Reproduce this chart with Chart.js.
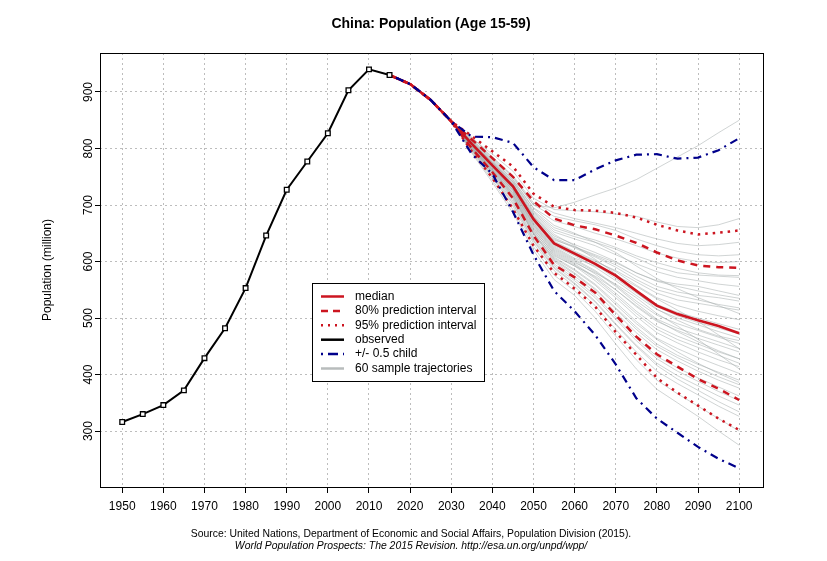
<!DOCTYPE html>
<html>
<head>
<meta charset="utf-8">
<title>China: Population (Age 15-59)</title>
<script src="https://cdn.jsdelivr.net/npm/chart.js@4.4.0/dist/chart.umd.min.js"></script>
<style>
body{margin:0;background:#fff;}
#wrap{width:827px;height:561px;}
</style>
</head>
<body>
<div id="wrap"><canvas id="myChart" width="827" height="561"></canvas></div>
<script>
// observed (UN WPP 2015), million people aged 15-59
var obsYears = [1950, 1955, 1960, 1965, 1970, 1975, 1980, 1985, 1990, 1995, 2000, 2005, 2010, 2015];
var observed = [316, 330, 346, 372, 429, 482, 553, 646, 727, 777, 827, 903, 940, 930];

// projections, 2015 - 2100 every 5 years
var projYears = [2015, 2020, 2025, 2030, 2035, 2040, 2045, 2050, 2055, 2060, 2065, 2070, 2075, 2080, 2085, 2090, 2095, 2100];
var median  = [930, 914, 886, 848, 808, 770, 733, 675, 632, 614, 596, 575, 548, 522, 507, 496, 486, 473];
var pi80Up  = [930, 914, 886, 848, 816, 783, 750, 707, 676, 664, 657, 646, 633, 616, 602, 593, 590, 589];
var pi80Low = [930, 914, 886, 848, 800, 758, 712, 646, 594, 572, 545, 505, 467, 436, 414, 392, 375, 355];
var pi95Up  = [930, 914, 886, 848, 822, 795, 768, 720, 697, 691, 690, 686, 678, 665, 655, 648, 651, 655];
var pi95Low = [930, 914, 886, 848, 795, 748, 693, 628, 580, 552, 520, 475, 435, 394, 368, 345, 322, 302];
var childUp  = [930, 914, 886, 848, 821, 820, 810, 767, 744, 744, 763, 779, 789, 790, 782, 784, 797, 818];
var childLow = [930, 914, 886, 848, 790, 755, 688, 612, 548, 512, 470, 418, 358, 322, 297, 272, 251, 234];

// sample trajectories: shared start 2015-2030, then 2035-2100
var trajStart = [930, 914, 886, 848];
var trajectories = [
  [820, 785, 750, 700, 695, 705, 718, 730, 745, 765, 785, 805, 828, 850],
  [818, 790, 760, 712, 692, 690, 688, 684, 680, 670, 662, 660, 665, 676],
  [815, 782, 748, 700, 680, 672, 665, 655, 640, 628, 618, 612, 610, 612],
  [814, 780, 745, 695, 672, 662, 650, 640, 628, 615, 606, 600, 598, 600],
  [812, 777, 742, 690, 660, 648, 638, 625, 610, 598, 588, 580, 576, 575],
  [811, 775, 740, 686, 652, 640, 628, 612, 596, 582, 572, 566, 560, 556],
  [810, 774, 737, 682, 645, 630, 616, 600, 580, 565, 556, 548, 541, 535],
  [810, 772, 735, 680, 640, 624, 608, 590, 568, 550, 540, 532, 524, 518],
  [809, 771, 734, 678, 636, 618, 602, 582, 558, 536, 522, 512, 504, 497],
  [808, 770, 732, 675, 632, 614, 595, 574, 548, 524, 510, 500, 490, 480],
  [807, 768, 730, 672, 628, 610, 590, 566, 540, 515, 500, 488, 476, 465],
  [806, 767, 728, 668, 624, 604, 584, 558, 530, 505, 490, 478, 466, 455],
  [806, 766, 726, 665, 620, 600, 578, 550, 520, 494, 478, 464, 452, 440],
  [805, 764, 724, 662, 616, 596, 572, 544, 512, 485, 468, 454, 440, 428],
  [804, 763, 722, 660, 612, 592, 566, 536, 503, 474, 456, 440, 426, 414],
  [803, 762, 720, 656, 608, 586, 560, 528, 494, 464, 446, 430, 416, 402],
  [802, 760, 717, 652, 604, 580, 552, 518, 484, 454, 434, 418, 404, 390],
  [801, 758, 714, 648, 600, 574, 546, 510, 474, 444, 424, 406, 390, 376],
  [800, 756, 710, 644, 596, 570, 540, 502, 464, 432, 412, 394, 378, 362],
  [798, 752, 704, 638, 590, 562, 530, 490, 452, 420, 398, 380, 362, 346],
  [796, 748, 698, 632, 584, 556, 522, 480, 440, 406, 384, 364, 344, 326],
  [794, 744, 692, 626, 576, 548, 512, 468, 426, 390, 366, 344, 322, 300],
  [792, 740, 686, 620, 568, 540, 500, 454, 410, 374, 350, 326, 300, 275],
  [812, 776, 738, 676, 638, 626, 612, 598, 580, 566, 560, 556, 548, 540],
  [806, 768, 730, 670, 626, 606, 592, 576, 556, 534, 514, 494, 470, 446],
  [809, 772, 736, 684, 648, 628, 604, 578, 546, 516, 496, 480, 468, 460],
  [804, 764, 726, 664, 618, 598, 580, 560, 536, 508, 486, 462, 436, 410],
  [802, 761, 718, 654, 610, 592, 574, 550, 522, 496, 476, 458, 442, 428],
  [813, 779, 744, 694, 664, 650, 634, 616, 592, 570, 552, 536, 522, 508],
  [800, 757, 712, 650, 606, 584, 558, 524, 490, 462, 440, 420, 402, 386],
  [816, 784, 752, 704, 686, 676, 668, 660, 650, 640, 632, 628, 630, 634],
  [811, 776, 741, 688, 656, 644, 634, 622, 606, 590, 580, 576, 574, 572],
  [808, 771, 733, 677, 634, 616, 600, 584, 564, 544, 532, 526, 520, 514],
  [807, 769, 731, 673, 630, 612, 594, 570, 544, 520, 504, 492, 482, 472],
  [805, 766, 727, 667, 622, 602, 582, 556, 526, 498, 482, 470, 458, 446],
  [803, 762, 721, 658, 614, 594, 570, 540, 508, 480, 462, 448, 434, 420],
  [801, 759, 716, 650, 602, 578, 550, 516, 480, 450, 430, 412, 396, 382],
  [799, 754, 707, 641, 593, 566, 536, 498, 460, 428, 406, 388, 370, 354],
  [797, 750, 702, 636, 588, 560, 528, 488, 450, 416, 392, 372, 352, 334],
  [810, 773, 736, 680, 642, 626, 610, 594, 574, 556, 546, 540, 536, 530]
];

var red = '#cc1520';
var navy = '#00008b';
var trajColor = 'rgba(160,168,168,0.7)';
var FONT = '"Liberation Sans", Arial, sans-serif';

function pts(years, vals) {
    return vals.map(function (v, i) { return {x: years[i], y: v}; });
}

function line(vals, color, width, dash) {
    return {
        data: pts(projYears, vals),
        borderColor: color,
        borderWidth: width,
        borderDash: dash,
        pointRadius: 0,
        tension: 0,
        fill: false
    };
}

var datasets = [];
// first dataset is drawn on top
datasets.push({
    data: pts(obsYears, observed),
    borderColor: '#000',
    borderWidth: 2,
    pointStyle: 'rect',
    pointRadius: 3.3,
    pointBorderWidth: 1.3,
    pointBorderColor: '#000',
    pointBackgroundColor: '#fff',
    tension: 0,
    fill: false
});
datasets.push(line(childUp, navy, 2.2, [2, 5, 8, 5]));
datasets.push(line(childLow, navy, 2.2, [2, 5, 8, 5]));
datasets.push(line(median, red, 2.6, []));
datasets.push(line(pi80Up, red, 2.5, [7, 6]));
datasets.push(line(pi80Low, red, 2.5, [7, 6]));
datasets.push(line(pi95Up, red, 2.5, [2.5, 5]));
datasets.push(line(pi95Low, red, 2.5, [2.5, 5]));
trajectories.forEach(function (t) {
    datasets.push(line(trajStart.concat(t), trajColor, 0.7, []));
});

var legendRows = [
    {text: 'median', color: red, dash: [], width: 2.5},
    {text: '80% prediction interval', color: red, dash: [7, 5], width: 2.5},
    {text: '95% prediction interval', color: red, dash: [2, 5], width: 2.5},
    {text: 'observed', color: '#000', dash: [], width: 2.5},
    {text: '+/- 0.5 child', color: navy, dash: [2, 5, 10, 5], width: 2.5},
    {text: '60 sample trajectories', color: '#b8bcbc', dash: [], width: 2.5}
];

var extras = {
    id: 'extras',
    afterDraw: function (chart) {
        var c = chart.ctx, a = chart.chartArea;
        c.save();
        // plot box
        c.strokeStyle = '#000';
        c.lineWidth = 1;
        c.setLineDash([]);
        c.strokeRect(a.left + 0.5, a.top + 0.5, a.right - a.left, a.bottom - a.top);

        // y tick labels, rotated like R
        var ys = chart.scales.y;
        c.fillStyle = '#000';
        c.font = '12px ' + FONT;
        c.textAlign = 'center';
        c.textBaseline = 'middle';
        ys.ticks.forEach(function (t) {
            var py = ys.getPixelForValue(t.value);
            c.save();
            c.translate(89, py);
            c.rotate(-Math.PI / 2);
            c.fillText(String(t.value), 0, 0);
            c.restore();
        });

        // y axis title
        c.save();
        c.translate(48, 270);
        c.rotate(-Math.PI / 2);
        c.fillText('Population (million)', 0, 0);
        c.restore();

        // main title
        c.font = 'bold 14px ' + FONT;
        c.fillText('China: Population (Age 15-59)', 431, 24);

        // source
        c.font = '10.4px ' + FONT;
        c.fillText('Source: United Nations, Department of Economic and Social Affairs, Population Division (2015).', 411, 534);
        c.font = 'italic 10.4px ' + FONT;
        c.fillText('World Population Prospects: The 2015 Revision. http://esa.un.org/unpd/wpp/', 411, 546);

        // legend
        var lx = 312, ly = 283, lw = 172, lh = 98;
        c.fillStyle = '#fff';
        c.fillRect(lx, ly, lw, lh);
        c.strokeStyle = '#000';
        c.lineWidth = 1;
        c.strokeRect(lx + 0.5, ly + 0.5, lw, lh);
        c.font = '12px ' + FONT;
        c.textAlign = 'left';
        legendRows.forEach(function (r, i) {
            var yy = ly + 13.5 + i * 14.4;
            c.beginPath();
            c.strokeStyle = r.color;
            c.lineWidth = r.width;
            c.setLineDash(r.dash);
            c.moveTo(lx + 9, yy);
            c.lineTo(lx + 32, yy);
            c.stroke();
            c.setLineDash([]);
            c.fillStyle = '#000';
            c.fillText(r.text, lx + 43, yy);
        });
        c.restore();
    }
};

var ctx = document.getElementById('myChart').getContext('2d');
var chart = new Chart(ctx, {
    type: 'line',
    data: {datasets: datasets},
    options: {
        responsive: false,
        animation: false,
        devicePixelRatio: 1,
        layout: {padding: {left: 0, right: 64, top: 53, bottom: 0}},
        plugins: {legend: {display: false}, tooltip: {enabled: false}, title: {display: false}},
        scales: {
            x: {
                type: 'linear',
                min: 1944.6,
                max: 2105.8,
                afterFit: function (s) { s.height = 74; },
                ticks: {
                    stepSize: 10,
                    includeBounds: false,
                    autoSkip: false,
                    maxRotation: 0,
                    padding: 6,
                    color: '#000',
                    font: {family: FONT, size: 12},
                    callback: function (v) { return String(v); }
                },
                grid: {color: '#bdbdbd', lineWidth: 1, tickColor: '#000', tickLength: 6, tickBorderDash: []},
                border: {display: false, dash: [2, 3]}
            },
            y: {
                type: 'linear',
                min: 201,
                max: 969,
                afterFit: function (s) { s.width = 100; },
                ticks: {stepSize: 100, includeBounds: false, display: false},
                grid: {color: '#bdbdbd', lineWidth: 1, tickColor: '#000', tickLength: 5, tickBorderDash: []},
                border: {display: false, dash: [2, 3]}
            }
        }
    },
    plugins: [extras]
});
</script>
</body>
</html>
